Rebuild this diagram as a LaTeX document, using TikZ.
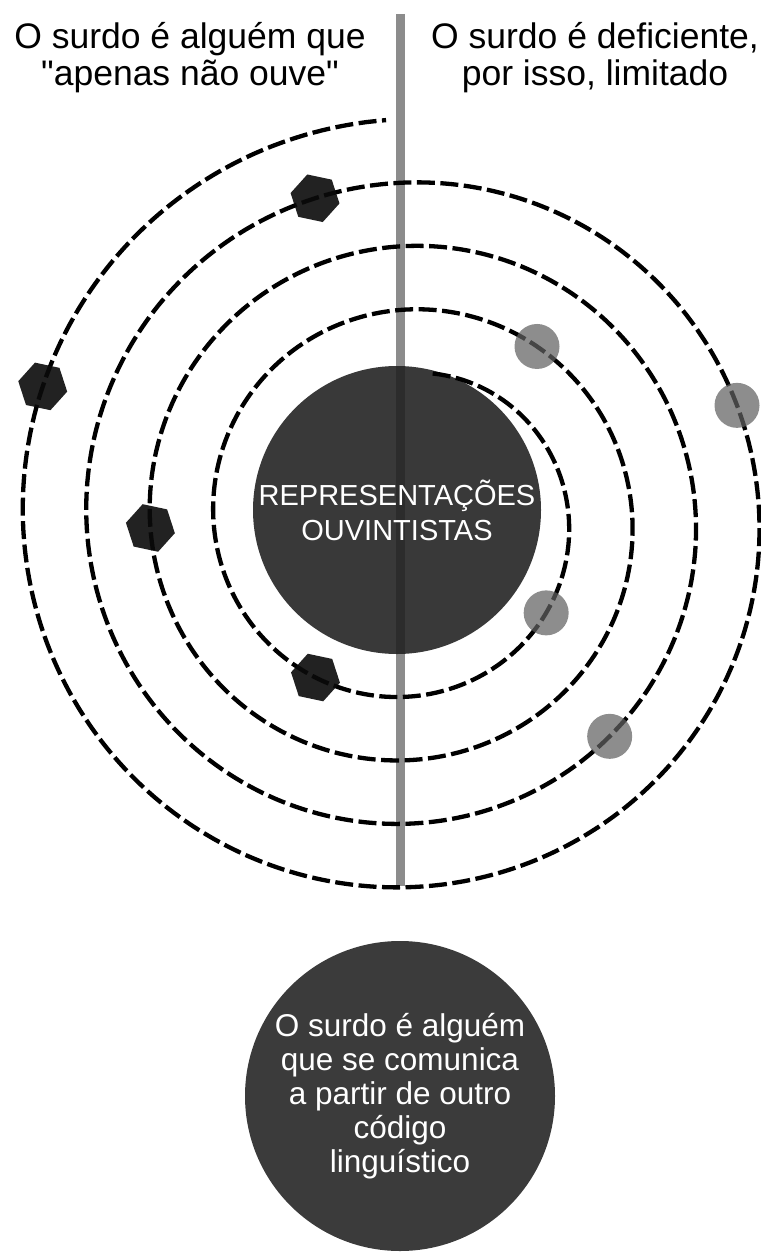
\documentclass[tikz,border=0pt]{standalone}
\usepackage{fontspec}
\setmainfont{Liberation Sans}[Ligatures=TeXOff]
\usetikzlibrary{shapes.geometric}

\begin{document}
\begin{tikzpicture}[x=1pt,y=-1pt,line join=round]
  \def\cx{407}   % centre of the spiral
  \def\cy{519}
  \def\rr{146}   % radius where the spiral starts
  \def\pitch{63.5} % growth of the radius per turn

  \tikzset{
    orbit/.style={line width=4.3pt,dash pattern=on 18pt off 5.5pt},
    hexa/.style={regular polygon,regular polygon sides=6,minimum size=50pt,inner sep=0pt,
                 fill=black!96,fill opacity=0.9,rotate=-12},
    graydot/.style={circle,minimum size=45pt,inner sep=0pt,fill=black!62,fill opacity=0.72},
    topnote/.style={align=center,font=\fontsize{35.5}{37}\selectfont},
    core/.style={circle,minimum size=288pt,inner sep=0pt,fill=black!87,fill opacity=0.89,
                 text opacity=1,text=white,align=center,font=\fontsize{29}{35}\selectfont},
    bubble/.style={circle,minimum size=310pt,inner sep=0pt,fill=black!77,
                   text=white,align=center,font=\fontsize{31.5}{34}\selectfont}
  }

  \useasboundingbox (0,0) rectangle (760,1252);

  % --- headings on both sides of the divider ---
  \node[topnote] (left)  at (190,58) {O surdo é alguém que\\"apenas não ouve"};
  \node[topnote] (right) at (595,58) {O surdo é deficiente,\\por isso, limitado};

  % --- divider (gray) ---
  \coordinate (divtop) at (400,14);
  \coordinate (divbot) at (400,886);
  \draw[black!45,line width=9pt] (divtop) -- (divbot);

  % --- central disc ---
  \node[core] (core) at (397,510) {REPRESENTAÇÕES\\OUVINTISTAS};

  % --- dashed spiral around the disc ---
  \draw[orbit] plot[domain=10:1437,samples=500,smooth]
    ({\cx+(\rr+\x/360*\pitch)*sin(\x)},{\cy-(\rr+\x/360*\pitch)*cos(\x)});

  % --- hexagons on the left half ---
  \foreach \a [count=\i] in {210,628,1064,1370}
    \node[hexa] (hex\i) at ({\cx+(\rr+\a/360*\pitch)*sin(\a)},{\cy-(\rr+\a/360*\pitch)*cos(\a)}) {};

  % --- gray dots on the right half ---
  \foreach \a [count=\i] in {124,397,857,1151}
    \node[graydot] (dot\i) at ({\cx+(\rr+\a/360*\pitch)*sin(\a)},{\cy-(\rr+\a/360*\pitch)*cos(\a)}) {};

  % --- disc below ---
  \node[bubble] (code) at (400,1096)
    {O surdo é alguém\\que se comunica\\a partir de outro\\código\\linguístico};
\end{tikzpicture}
\end{document}
